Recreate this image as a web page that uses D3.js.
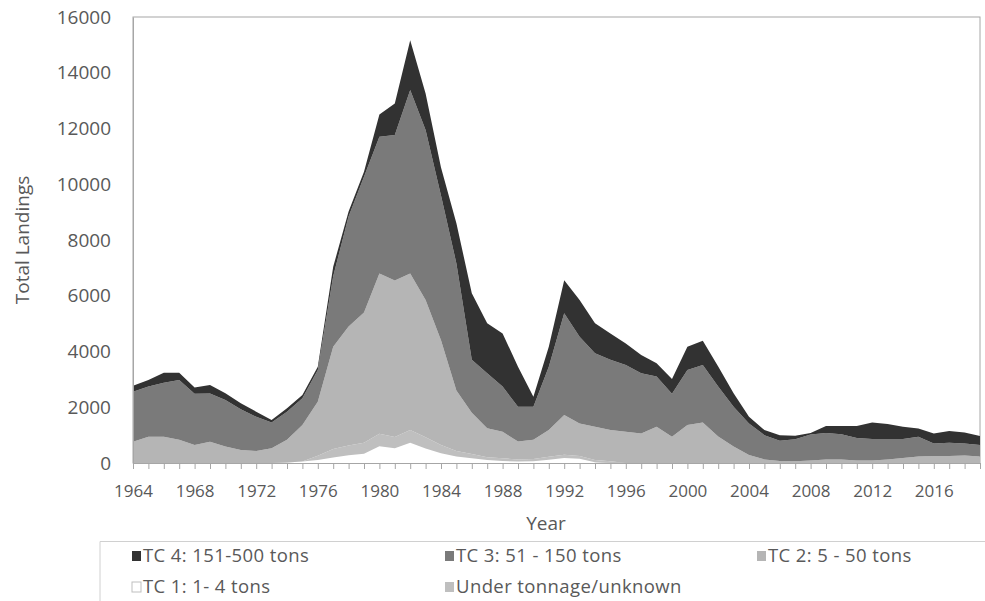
<!DOCTYPE html>
<html>
<head>
<meta charset="utf-8">
<script src="https://cdn.jsdelivr.net/npm/d3@7/dist/d3.min.js"></script>
<style>
  html, body { margin: 0; padding: 0; background: #ffffff; }
  svg { display: block; }
  text { font-family: "Open Sans", "DejaVu Sans", sans-serif; fill: #595959; }
</style>
</head>
<body>
<svg id="chart" width="985" height="601"></svg>
<script>
// ---- DATA ----
const years = d3.range(1964, 2020);
const tc1 = [0,0,0,0,0,0,0,0,0,0, 20,50,110,200,280,330,600,530,730,520, 350,230,170,110,70,50,60,120,180,150, 30,0,0,0,0,0,0,0,0,0, 0,0,0,0,0,0,0,0,0,0, 0,0,0,0,0,0];
const underTonnage = [0,0,0,0,0,0,0,0,0,0, 0,0,150,300,350,400,450,400,450,400, 300,200,150,100,100,80,80,100,120,100, 80,60,0,0,0,0,0,0,0,0, 0,0,0,0,0,0,0,0,0,0, 0,0,0,0,0,0];
const tc2 = [760,940,940,830,650,760,590,470,430,530, 810,1310,1940,3670,4270,4670,5750,5620,5620,4930, 3750,2170,1480,1040,950,640,690,960,1420,1170, 1190,1120,1120,1060,1300,940,1360,1450,950,590, 290,130,70,60,90,130,130,90,90,130, 180,230,250,250,270,230];
const tc3 = [1800,1800,1940,2150,1830,1730,1670,1460,1230,920, 1010,960,1140,2530,3940,4870,4900,5220,6580,6100, 5200,4560,1900,1970,1620,1250,1190,2270,3650,3110, 2640,2520,2400,2160,1800,1540,1980,2070,1790,1430, 1130,870,730,790,930,950,900,810,770,730, 680,710,450,480,430,420];
const tc4 = [210,240,360,260,230,310,240,210,180,90, 120,120,110,340,180,180,800,1130,1790,1310, 1000,1440,2390,1790,1910,1430,360,720,1190,1320, 1070,950,770,650,480,530,830,870,720,480, 240,180,200,130,60,250,300,430,590,540, 440,300,360,420,390,320];
const yTicks = [0,2000,4000,6000,8000,10000,12000,14000,16000];
const xLabelYears = [1964,1968,1972,1976,1980,1984,1988,1992,1996,2000,2004,2008,2012,2016];

const keys = ["tc1","ut","tc2","tc3","tc4"];
const colors = {tc1:"#ffffff", ut:"#bfbfbf", tc2:"#b5b5b5", tc3:"#7a7a7a", tc4:"#323232"};
const legendItems = [
  {key:"tc4", label:"TC 4: 151-500 tons"},
  {key:"tc3", label:"TC 3: 51 - 150 tons"},
  {key:"tc2", label:"TC 2: 5 - 50 tons"},
  {key:"tc1", label:"TC 1: 1- 4 tons"},
  {key:"ut",  label:"Under tonnage/unknown"}
];

const table = years.map((y,i) => ({year:y, tc1:tc1[i], ut:underTonnage[i], tc2:tc2[i], tc3:tc3[i], tc4:tc4[i]}));

// ---- LAYOUT ----
const svg = d3.select("#chart");
const L = 133, R = 980, T = 17, B = 463;
const x = d3.scaleLinear().domain([1964, 2019]).range([L, R]);
const y = d3.scaleLinear().domain([0, 16000]).range([B, T]);

// frame
svg.append("rect").attr("x", L).attr("y", T).attr("width", R - L).attr("height", B - T)
  .attr("fill", "none").attr("stroke", "#a6a6a6").attr("stroke-width", 1);

const stack = d3.stack().keys(keys);
const series = stack(table);
const area = d3.area()
  .x(d => x(d.data.year))
  .y0(d => y(d[0]))
  .y1(d => y(d[1]));

svg.append("g").selectAll("path").data(series).join("path")
  .attr("d", area)
  .attr("fill", d => colors[d.key]);

// x axis
const xAxis = d3.axisBottom(x).tickValues(years).tickSize(6).tickFormat(d => xLabelYears.includes(d) ? d : "");
const gx = svg.append("g").attr("transform", `translate(0,${B})`).call(xAxis);
gx.select(".domain").attr("stroke", "#a6a6a6");
gx.selectAll(".tick line").attr("stroke", "#a6a6a6");
gx.selectAll(".tick text").attr("font-size", 17).attr("dy", "1.45em").attr("fill", "#595959")
  .style("font-family", "'Open Sans', sans-serif");

// y axis
const yAxis = d3.axisLeft(y).tickValues(yTicks).tickSize(0).tickPadding(22).tickFormat(d3.format("d"));
const gy = svg.append("g").attr("transform", `translate(${L},0)`).call(yAxis);
gy.select(".domain").attr("stroke", "#a6a6a6");
gy.selectAll(".tick text").attr("font-size", 19).attr("fill", "#595959")
  .style("font-family", "'Open Sans', sans-serif");

// axis titles
svg.append("text").attr("x", 546).attr("y", 530).attr("text-anchor", "middle")
  .attr("font-size", 19).text("Year");
svg.append("text").attr("transform", "translate(29,240) rotate(-90)").attr("text-anchor", "middle")
  .attr("font-size", 19).text("Total Landings");

// legend
const lg = svg.append("g");
lg.append("path").attr("d", "M100,601 V541.5 H985").attr("fill", "none").attr("stroke", "#d0d0d0");
const colX = [132, 445, 757];
const rowY = [556, 587];
legendItems.forEach((it, i) => {
  const cx = colX[i % 3], cy = rowY[Math.floor(i / 3)];
  lg.append("rect").attr("x", cx).attr("y", cy - 5).attr("width", 9).attr("height", 10)
    .attr("fill", colors[it.key]).attr("stroke", it.key === "tc1" ? "#bfbfbf" : "none");
  lg.append("text").attr("x", cx + 11).attr("y", cy).attr("dy", "0.35em")
    .attr("font-size", 18.5).attr("letter-spacing", 0.4).text(it.label);
});
</script>
</body>
</html>
